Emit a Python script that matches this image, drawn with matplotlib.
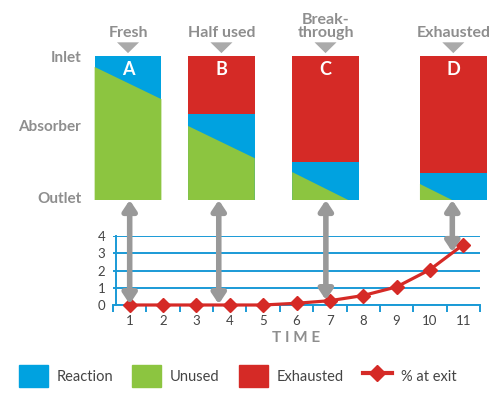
import numpy as np
import matplotlib.pyplot as plt
from matplotlib.patches import Patch, ConnectionPatch
from matplotlib.lines import Line2D

plt.rcParams['font.family'] = ['Lato', 'DejaVu Sans']

BLUE = '#00a2e0'
GREEN = '#8cc540'
RED = '#d52a26'
GRAY = '#999999'
TEXT = '#8e8e8e'
DARK = '#444444'

# column diagrams (fractions of column height, 0 = outlet, 1 = inlet)
letters = ['A', 'B', 'C', 'D']
stages = ['Fresh', 'Half used', 'Break-\nthrough', 'Exhausted']
col_x = [0.95, 3.75, 6.87, 10.7]        # column centres on the time scale
arrow_x = [1.0, 3.67, 6.88, 10.67]
exhausted_level = [1.0, 0.60, 0.264, 0.1875]   # bottom of red zone
green_left = [0.924, 0.514, 0.194, 0.111]
green_right = [0.70, 0.29, -0.037, -0.12]

# breakthrough curve
time = np.arange(1, 12)
pct_exit = [0, 0, 0, 0, 0, 0.1, 0.25, 0.55, 1.05, 2.05, 3.5]

fig = plt.figure(figsize=(5.01, 3.95), dpi=100)
W, H = 501, 395
axl_left, axl_w = 113 / W, 367 / W
ax_top = fig.add_axes([axl_left, (H - 200) / H, axl_w, 144 / H])
ax = fig.add_axes([axl_left, (H - 305) / H, axl_w, 69 / H])

# --- columns
ax_top.set_xlim(0.5, 11.5)
ax_top.set_ylim(0, 1)
ax_top.axis('off')
cw = 2.0
for i in range(4):
    l, r = col_x[i] - cw / 2, col_x[i] + cw / 2
    e = exhausted_level[i]
    ax_top.fill([l, r, r, l], [0, 0, e, e], color=BLUE, lw=0, clip_on=False)
    if e < 1:
        ax_top.fill([l, r, r, l], [e, e, 1, 1], color=RED, lw=0, clip_on=False)
    gl, gr = green_left[i], green_right[i]
    if gr >= 0:
        px, py = [l, l, r, r], [0, gl, gr, 0]
    else:
        x0 = l + cw * gl / (gl - gr)
        px, py = [l, l, x0], [0, gl, 0]
    ax_top.fill(px, py, color=GREEN, lw=0, clip_on=False)
    ax_top.text(col_x[i], 0.905, letters[i], color='white', fontsize=13,
                fontweight='bold', ha='center', va='center')
    ax_top.fill([col_x[i] - 0.33, col_x[i] + 0.33, col_x[i]],
                [1.095, 1.095, 1.02], color='#aaaaaa', lw=0, clip_on=False)
    ax_top.text(col_x[i], 1.13, stages[i], color=TEXT, fontsize=11.5,
                fontweight='bold', ha='center', va='baseline',
                linespacing=0.95)

for lab, y in [('Inlet', 0.985), ('Absorber', 0.51), ('Outlet', 0.01)]:
    ax_top.text(-0.45, y, lab, color=TEXT, fontsize=11, fontweight='bold',
                ha='right', va='center')

# --- curve
ax.set_xlim(0.5, 11.5)
ax.set_ylim(0, 4)
for yv in range(5):
    ax.axhline(yv, color='#1a9ad6', lw=1.4, zorder=1)
ax.spines[['top', 'right']].set_visible(False)
ax.spines['left'].set_position(('data', 0.6))
ax.spines['left'].set_color('#1a9ad6')
ax.spines['left'].set_linewidth(1.4)
ax.spines['bottom'].set_color('#1a9ad6')
ax.spines['bottom'].set_linewidth(1.4)
ax.set_yticks(range(5))
ax.set_xticks(time)
ax.set_xticks(np.arange(0.5, 12, 1), minor=True)
ax.tick_params(axis='y', length=0, pad=8, labelsize=9.5, labelcolor=DARK)
ax.tick_params(axis='x', which='major', length=0, pad=7, labelsize=9.5,
               labelcolor=DARK)
ax.tick_params(axis='x', which='minor', length=5, width=1.4, color='#1a9ad6')
ax.set_xlabel('T I M E', color=TEXT, fontsize=11, fontweight='bold',
              labelpad=3)
ax.plot(time, pct_exit, color=RED, lw=2.3, marker='D', ms=7,
        clip_on=False, zorder=4)

# --- arrows from columns down to the curve
for xa in arrow_x:
    yend = np.interp(xa, time, pct_exit)
    con = ConnectionPatch(xyA=(xa, 0), coordsA=ax_top.transData,
                          xyB=(xa, yend + 0.05), coordsB=ax.transData,
                          arrowstyle='<|-|>,head_length=0.6,head_width=0.4',
                          color=GRAY, lw=4, shrinkA=0, shrinkB=0, zorder=3)
    fig.add_artist(con)

handles = [Patch(color=BLUE), Patch(color=GREEN), Patch(color=RED),
           Line2D([], [], color=RED, lw=3, marker='D', ms=8)]
fig.legend(handles, ['Reaction', 'Unused', 'Exhausted', '% at exit'],
           loc='center', bbox_to_anchor=(0.474, (H - 376) / H), ncol=4,
           frameon=False, fontsize=10.5, handlelength=2.0, handleheight=1.9,
           columnspacing=1.3, handletextpad=0.6, labelcolor=DARK)

fig.savefig('out.png', dpi=100)
